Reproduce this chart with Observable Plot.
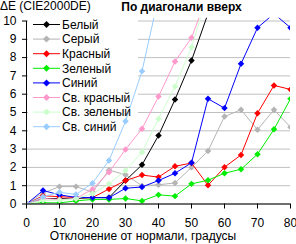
<!DOCTYPE html>
<html><head><meta charset="utf-8">
<script src="https://cdn.jsdelivr.net/npm/d3@7"></script>
<script src="https://cdn.jsdelivr.net/npm/@observablehq/plot@0.6"></script>
<style>
html,body{margin:0;padding:0;background:#fff;}
#chart{width:296px;height:244px;}
#chart svg{display:block;}
</style></head><body><div id="chart"></div>
<script>
// Viewing angle, degrees
const angles = [0, 5, 10, 15, 20, 25, 30, 35, 40, 45, 50, 55, 60, 65, 70, 75, 80];

const seriesNames = ["Белый", "Серый", "Красный", "Зеленый", "Синий", "Св. красный", "Св. зеленый", "Св. синий"];
const seriesColors = ["#000000", "#b4b4b4", "#ff0000", "#00ee00", "#0000ff", "#ff99cc", "#ccffcc", "#99ccff"];

// ΔE per angle; series stop once they leave the top of the scale
const white      = [0, 0.3, 0.3, 0.3, 0.35, 0.35, 1.28, 2.14, 3.74, 5.71, 7.84, 10.4];
const gray       = [0, 0.6, 0.95, 0.95, 0.65, 1.85, 1.6, 1.0, 1.05, 1.15, 2.0, 2.9, 4.78, 5.15, 4.06, 5.15, 4.2];
const red        = [0, 0.45, 0.4, 0.35, 0.35, 0.82, 1.28, 1.58, 1.47, 2.06, 2.24, 1.02, 2.01, 2.68, 4.96, 6.48, 6.26];
const green      = [0, 0.07, 0.06, 0.17, 0.25, 0.25, 0.3, 0.17, 0.5, 0.43, 1.1, 1.3, 1.68, 1.9, 2.72, 4.08, 5.75];
const blue       = [0, 0.74, 0.5, 0.36, 0.35, 0.34, 0.86, 0.93, 1.28, 1.68, 2.25, 5.75, 5.24, 7.66, 9.63, 10.4, 9.63];
const lightRed   = [0, 0.3, 0.25, 0.3, 0.81, 1.74, 2.98, 4.11, 5.87, 7.79, 9.08, 11.5];
const lightGreen = [0, 0.2, 0.2, 0.3, 0.56, 1.1, 1.83, 2.83, 4.66, 6.42, 8.57, 11.5];
const lightBlue  = [0, 0.4, 0.64, 0.52, 1.14, 2.38, 4.52, 7.26, 11.3];

const yTicks = [0, 1, 2, 3, 4, 5, 6, 7, 8, 9, 10];
const xTicks = [0, 10, 20, 30, 40, 50, 60, 70, 80];

const chartTitle = "По диагонали вверх";
const yTitle = "ΔE (CIE2000DE)";
const xTitle = "Отклонение от нормали, градусы";

const seriesValues = [white, gray, red, green, blue, lightRed, lightGreen, lightBlue];
const seriesRows = seriesValues.map((vals, i) =>
  vals.map((v, j) => ({series: seriesNames[i], angle: angles[j], value: v})));

const FONT = "'Liberation Sans', Arial, sans-serif";
const SVGNS = "http://www.w3.org/2000/svg";

function el(name, attrs) {
  const e = document.createElementNS(SVGNS, name);
  for (const k in attrs) e.setAttribute(k, attrs[k]);
  return e;
}
function diamond(cx, cy, s, fill) {
  return el("path", {d: `M${cx},${cy - s}L${cx + s},${cy}L${cx},${cy + s}L${cx - s},${cy}Z`, fill});
}

// white panel behind the legend, hiding the grid
const legendPanel = () => el("rect", {x: 28, y: 14, width: 110, height: 121, fill: "#fff"});

// line + marker swatches with series names
const legend = () => {
  const g = el("g", {"font-family": FONT, "font-size": 12, "text-anchor": "start"});
  seriesNames.forEach((name, i) => {
    const y = 24.5 + i * 14.6;
    g.append(el("line", {x1: 33, x2: 60, y1: y, y2: y, stroke: seriesColors[i], "stroke-width": 1}));
    g.append(diamond(46.5, y, 3.5, seriesColors[i]));
    const t = el("text", {x: 62, y: y + 4.3, fill: "#000"});
    t.textContent = name;
    g.append(t);
  });
  return g;
};

const titles = () => {
  const g = el("g", {"font-family": FONT, fill: "#000"});
  const a = el("text", {x: 181.5, y: 11, "text-anchor": "middle", "font-size": 12, "font-weight": "bold"});
  a.textContent = chartTitle;
  const b = el("text", {x: 0, y: 10, "text-anchor": "start", "font-size": 12});
  b.textContent = yTitle;
  const c = el("text", {x: 143, y: 240, "text-anchor": "middle", "font-size": 12});
  c.textContent = xTitle;
  g.append(a, b, c);
  return g;
};

const seriesMarks = seriesRows.flatMap((rows) => [
  Plot.line(rows, {x: "angle", y: "value", stroke: "series", strokeWidth: 1, clip: true}),
  Plot.dot(rows, {x: "angle", y: "value", fill: "series", symbol: "diamond2", r: 2.9, stroke: null, clip: true})
]);

const chart = Plot.plot({
  width: 296,
  height: 244,
  marginLeft: 26,
  marginRight: 6,
  marginTop: 17.76,
  marginBottom: 40.5,
  style: {fontFamily: FONT, fontSize: "12px", color: "#000", background: "#fff"},
  x: {domain: [0, 80]},
  y: {domain: [0, 10.15]},
  color: {domain: seriesNames, range: seriesColors},
  marks: [
    Plot.gridY(yTicks, {stroke: "#c0c0c0", strokeOpacity: 1}),
    legendPanel,
    ...seriesMarks,
    Plot.ruleY([0], {stroke: "#000"}),
    Plot.ruleX([0], {y1: 0, y2: 10, stroke: "#000"}),
    Plot.axisY(yTicks, {tickSize: 4, tickPadding: 6, label: null, fontSize: 12}),
    Plot.axisX(xTicks, {tickSize: 5, tickPadding: 9, label: null, fontSize: 12}),
    legend,
    titles
  ]
});

document.getElementById("chart").append(chart);
</script>
</body></html>
